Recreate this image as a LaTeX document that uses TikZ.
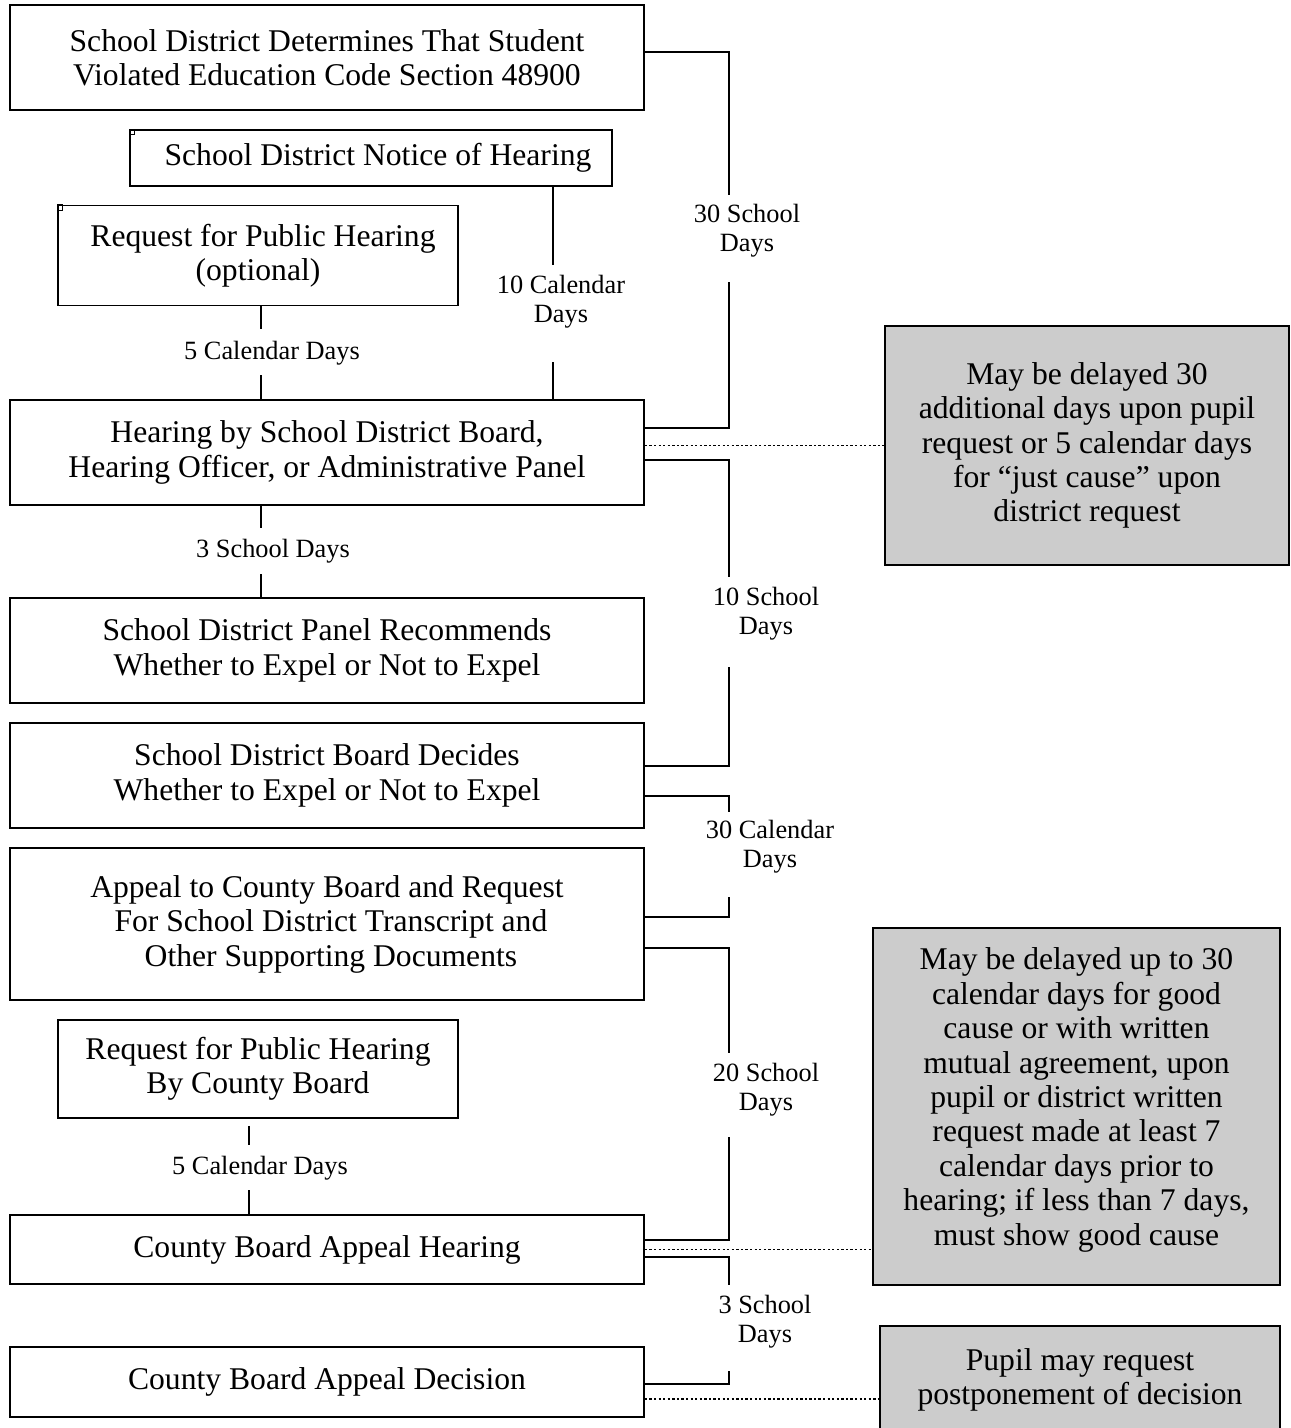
\documentclass[tikz,border=0pt]{standalone}
\usepackage{fontspec}
\setmainfont{Liberation Serif}

\tikzset{
	basic/.style  = {draw, line width=1.1pt, rectangle, align=center, inner sep=2pt, font=\fontsize{18}{19.6}\selectfont},
	stage/.style  = {basic, minimum width=12.68cm, minimum height=2.1cm},
	request/.style = {basic, minimum width=8cm},
	delay/.style  = {basic, fill=black!20, line width=1.4pt},
	span/.style   = {align=center, inner sep=0pt, font=\fontsize{15}{16.4}\selectfont},
	conn/.style   = {line width=1.1pt},
	aside/.style  = {line width=1pt, dash pattern=on 1.3pt off 1.3pt}
}

\begin{document}
\begin{tikzpicture}[x=0.02cm, y=-0.02cm]
	\useasboundingbox (0,0) rectangle (1291,1428);
	
	% the steps on the left, top to bottom
	\node[stage] (det) at (327,57.5) {School District Determines That Student\\Violated Education Code Section 48900};
	\node[basic, minimum width=9.64cm, minimum height=1.12cm] (notice) at (371,158) {\hspace{0.28cm}School District Notice of Hearing};
	\node[request, minimum height=2cm] (req) at (258,255.5) {\hspace{0.2cm}Request for Public Hearing\\(optional)};
	\node[stage] (hear) at (327,452.5) {Hearing by School District Board,\\Hearing Officer, or Administrative Panel};
	\node[stage] (panel) at (327,650.5) {School District Panel Recommends\\Whether to Expel or Not to Expel};
	\node[stage] (board) at (327,775.5) {School District Board Decides\\Whether to Expel or Not to Expel};
	\node[stage, minimum height=3.04cm] (appeal) at (327,924) {Appeal to County Board and Request\\\ For School District Transcript and\\\ Other Supporting Documents};
	\node[request, minimum height=1.96cm] (creq) at (258,1069) {Request for Public Hearing\\By County Board};
	\node[stage, minimum height=1.38cm] (chear) at (327,1249.5) {County Board Appeal Hearing};
	\node[stage, minimum height=1.4cm] (cdec) at (327,1382) {County Board Appeal Decision};
	
	% little corner marks
	\draw[line width=0.6pt] (notice.north west) rectangle ++(5,5);
	\draw[line width=0.6pt] (req.north west) rectangle ++(5,6);
	
	% gray notes on the right
	\node[delay, minimum width=8.08cm, minimum height=4.78cm] (note1) at (1087,445.5) {May be delayed 30\\additional days upon pupil\\request or 5 calendar days\\for “just cause” upon\\district request};
	\node[delay, minimum width=8.14cm, minimum height=7.14cm, text depth=0.4cm] (note2) at (1076.5,1106.5) {May be delayed up to 30\\calendar days for good\\cause or with written\\mutual agreement, upon\\pupil or district written\\request made at least 7\\calendar days prior to\\hearing; if less than 7 days,\\must show good cause};
	\node[delay, minimum width=8cm, minimum height=2.16cm] (note3) at (1080,1380) {Pupil may request\\postponement of decision};
	
	% time spans
	\node[span] (d5a) at (272,353) {5 Calendar Days};
	\node[span] (d10c) at (561,302) {10 Calendar\\Days};
	\node[span] (d30s) at (747,231) {30 School\\Days};
	\node[span] (d3a) at (273,551) {3 School Days};
	\node[span] (d10s) at (766,614) {10 School\\Days};
	\node[span] (d30c) at (770,847) {30 Calendar\\Days};
	\node[span] (d20s) at (766,1090) {20 School\\Days};
	\node[span] (d5b) at (260,1168) {5 Calendar Days};
	\node[span] (d3b) at (765,1322) {3 School\\Days};
	
	% short vertical spans between boxes
	\coordinate (a1) at (261,329); \coordinate (a2) at (261,375);
	\draw[conn] (req.south -| a1) -- (a1);
	\draw[conn] (a2) -- (hear.north -| a2);
	
	\coordinate (b1) at (553,265); \coordinate (b2) at (553,362);
	\draw[conn] (notice.south -| b1) -- (b1);
	\draw[conn] (b2) -- (hear.north -| b2);
	
	\coordinate (c1) at (261,528); \coordinate (c2) at (261,574);
	\draw[conn] (hear.south -| c1) -- (c1);
	\draw[conn] (c2) -- (panel.north -| c2);
	
	\coordinate (e1) at (249,1145); \coordinate (e2) at (249,1190);
	\draw[conn, shorten <=0.14cm] (creq.south -| e1) -- (e1);
	\draw[conn] (e2) -- (chear.north -| e2);
	
	% brackets on the right side
	\foreach \from/\ya/\yb/\yc/\to/\yd in {det/52/195/282/hear/428, hear/460/577/667/board/766, board/796/812/897/appeal/917, appeal/948/1053/1137/chear/1240, chear/1257/1285/1371/cdec/1384}
	{
		\coordinate (up) at (729,\yb);
		\coordinate (dn) at (729,\yc);
		\draw[conn] (\from.east |- 0,\ya) -| (up);
		\draw[conn] (dn) |- (\to.east |- 0,\yd);
	}
	
	% dotted links to the notes
	\draw[aside] (hear.east |- note1.west) -- (note1.west);
	\draw[aside] (chear.east) -- (note2.west |- chear.east);
	\draw[aside] (cdec.east |- 0,1399) -- (note3.west |- 0,1399);
	
\end{tikzpicture}
\end{document}
